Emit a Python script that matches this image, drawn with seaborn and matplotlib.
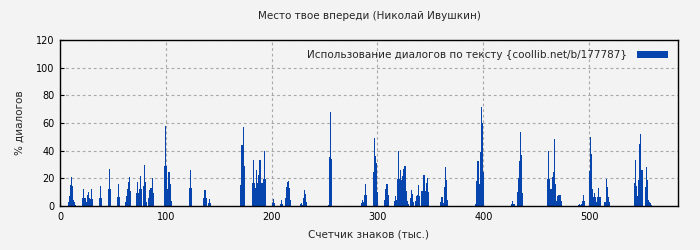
import matplotlib
matplotlib.use("Agg")
import matplotlib.pyplot as plt
from matplotlib.patches import Patch
import numpy as np
import pandas as pd
import seaborn as sns

title = "Место твое впереди (Николай Ивушкин)"
xlabel = "Счетчик знаков (тыс.)"
ylabel = "% диалогов"
legend_label = "Использование диалогов по тексту {coollib.net/b/177787}"
bar_color = "#0645ad"

# clusters: (start position in thousand chars, consecutive values in %)
cluster_starts = [8, 21, 37, 46, 54, 62, 72, 79, 84, 99, 122, 136, 140, 171, 182,
                  201, 208, 213, 227, 254, 285, 296, 307, 316, 331, 336, 360, 393,
                  427, 432, 461, 490, 500, 515, 543, 553]
cluster_values = [
    [2.6, 7.4, 15, 20.7, 14.5, 4.5, 2.6, 0.8],
    [5.7, 12.4, 5.7, 5.7, 3, 7.6, 10.2, 5.7, 5.3, 12, 5.3],
    [5.7, 14.8, 5.7],
    [12.4, 26.6, 12.4],
    [6.5, 16, 6.5],
    [3, 7.4, 12.2, 17.6, 20.9, 11],
    [9.3, 17.3, 9.3, 12, 21.7, 12],
    [14.8, 29.5, 17.3, 2.8],
    [6, 11.7, 13, 20, 9.7],
    [28.8, 57.6, 28.8, 12.4, 24.5, 16, 3.8],
    [13, 25.9, 13],
    [6, 11.7, 6],
    [2.3, 5.1, 2.3],
    [15.2, 43.8, 57.4, 28.8],
    [16.6, 33, 16.6, 13, 25.9, 16.6, 22.4, 33, 16.6, 16.6, 19.5, 39.5, 19.5],
    [2, 5, 2.4],
    [1.5, 4, 1.5],
    [6, 13.7, 17, 18, 13, 4],
    [1.5, 2, 1, 6, 11.7, 8.6, 3],
    [0.5, 35.4, 68, 33.8],
    [2.4, 4.5, 3, 8, 16, 8],
    [24.5, 49, 36, 31, 10.2],
    [4.5, 12.4, 16, 8],
    [3.6, 7, 4.5, 19.5, 39.5, 19.5, 26, 18.8, 21.6, 26.6, 28.8, 11, 3.6, 1.5],
    [6, 11.7, 8.8, 3],
    [3.6, 7, 7.6, 15.2, 7, 0, 11, 11, 22.4, 11, 16.6, 20, 10.2],
    [3, 6.2, 2, 13.8, 28, 18.8, 4.5],
    [1.5, 18, 32.4, 16, 38.8, 71.6, 60, 24.5],
    [1.5, 3.6, 1.5],
    [10.2, 20, 32.4, 53.8, 36.6, 9.5],
    [19.5, 39.5, 19.5, 12.4, 21, 24.5, 48.6, 16, 3.6, 7, 7.6, 7.6, 7.6, 3.6],
    [0.8, 1.5, 0.8, 1.5, 3.6, 7.6, 3.6],
    [25, 50.2, 37.3, 12.4, 6.3, 9.5, 6.3, 3, 6.3, 13, 6.3, 6.3],
    [3, 19.5, 13.8, 6.3, 3],
    [16.6, 33, 14.5, 7, 18.8, 44.5, 52.4, 26],
    [13.8, 28, 18.8, 4.5, 3, 2.3, 1],
]
x_ticks = [0, 100, 200, 300, 400, 500]
y_ticks = [0, 20, 40, 60, 80, 100, 120]

xs, ys = [], []
for s, vals in zip(cluster_starts, cluster_values):
    for i, v in enumerate(vals):
        xs.append(s + i)
        ys.append(v)
df = pd.DataFrame({"pos": xs, "pct": ys})

sns.set_theme(style="white")
plt.rcParams["font.family"] = ["DejaVu Sans"]
bg = "#f3f3f3"
fig = plt.figure(figsize=(7, 2.5), dpi=100, facecolor=bg)
ax = fig.add_axes([60/700, 44/250, 618/700, 166/250])
ax.set_facecolor(bg)

sns.barplot(data=df, x="pos", y="pct", native_scale=True, width=1.0,
            color=bar_color, saturation=1, errorbar=None, linewidth=0, ax=ax)

ax.set_xlim(0, 584)
ax.set_ylim(0, 120)
ax.set_xticks(x_ticks)
ax.set_yticks(y_ticks)
ax.grid(True, color="#a8a8a8", linestyle=(0, (2.5, 2.5)), linewidth=0.8)
ax.set_axisbelow(True)
for sp in ax.spines.values():
    sp.set_color("black")
    sp.set_linewidth(1.0)
    sp.set_visible(True)
ax.tick_params(direction="in", length=3, width=0.8, labelsize=7, colors="black",
               pad=4, left=True, bottom=True)
ax.set_xlabel(xlabel, fontsize=7.5, labelpad=6)
ax.set_ylabel(ylabel, fontsize=7.5, labelpad=8)
ax.set_title(title, fontsize=7.5, pad=15)
handle = Patch(facecolor=bar_color, edgecolor="none")
ax.legend([handle], [legend_label], loc="upper right", frameon=False,
          fontsize=7.5, handlelength=2.9, handleheight=0.6, borderaxespad=0.3,
          borderpad=0.7, handletextpad=1.0, markerfirst=False)

fig.savefig("out.png", dpi=100, facecolor=bg)
